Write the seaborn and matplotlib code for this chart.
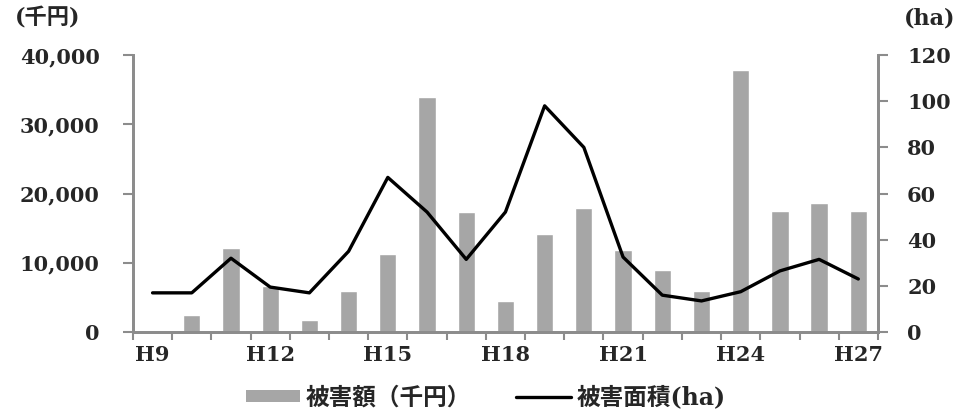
import numpy as np
import pandas as pd
import matplotlib
matplotlib.use('Agg')
import matplotlib.pyplot as plt
import seaborn as sns
from matplotlib.lines import Line2D
from matplotlib.patches import Patch

# 年度（平成）
years = ['H9', 'H10', 'H11', 'H12', 'H13', 'H14', 'H15', 'H16', 'H17', 'H18',
         'H19', 'H20', 'H21', 'H22', 'H23', 'H24', 'H25', 'H26', 'H27']
# 被害額（千円）
damage_amount = [0, 2400, 12100, 6600, 1800, 6000, 11300, 34000, 17300, 4500,
                 14200, 17900, 11800, 9000, 6000, 37900, 17500, 18700, 17500]
# 被害面積（ha）
damage_area = [17, 17, 32, 19.5, 17, 35, 67, 52, 31.5, 52,
               98, 80, 32.5, 16, 13.5, 17.5, 26.5, 31.5, 23]

left_ticks = [0, 10000, 20000, 30000, 40000]
right_ticks = [0, 20, 40, 60, 80, 100, 120]

df = pd.DataFrame({'年度': years, '被害額': damage_amount,
                   '被害面積': damage_area, 'pos': np.arange(len(years))})

sns.set_style('white')
plt.rcParams['font.family'] = ['DejaVu Serif', 'Noto Sans CJK JP']
plt.rcParams['font.weight'] = 'bold'

fig = plt.figure(figsize=(9.6, 4.09), dpi=100)
ax = fig.add_axes([0.1385, 0.188, 0.776, 0.6775])

sns.barplot(data=df, x='年度', y='被害額', color='#a6a6a6', saturation=1,
            width=0.44, ax=ax)

ax2 = ax.twinx()
sns.lineplot(data=df, x='pos', y='被害面積', color='black', linewidth=2.4, ax=ax2)

axis_col = '#8c8c8c'
for a in (ax, ax2):
    a.spines['top'].set_visible(False)
    for s in ('left', 'right', 'bottom'):
        a.spines[s].set_color(axis_col)
        a.spines[s].set_linewidth(2)
    a.set_xlabel('')
    a.set_ylabel('')

ax.set_xlim(-0.5, len(years) - 0.5)
ax.set_ylim(0, 40000)
ax2.set_ylim(0, 120)
ax.set_yticks(left_ticks)
ax.set_yticklabels([f'{v:,}' for v in left_ticks])
ax2.set_yticks(right_ticks)
ax.tick_params(axis='y', direction='out', length=7, width=1.5, color=axis_col,
               labelsize=15, pad=17, left=True)
ax2.tick_params(axis='y', direction='out', length=7, width=1.5, color=axis_col,
                labelsize=15, pad=14, right=True)

# x軸: 3年ごとにラベル、目盛りは各区切り
ax.set_xticks(np.arange(0, len(years), 3))
ax.set_xticklabels(years[::3])
ax.set_xticks(np.arange(-0.5, len(years)), minor=True)
ax.tick_params(axis='x', which='major', length=0, labelsize=15, pad=9)
ax.tick_params(axis='x', which='minor', direction='out', length=6, width=1.5,
               color=axis_col, bottom=True)

fig.text(0.015, 0.955, '(千円)', fontsize=16, ha='left', va='center')
fig.text(0.942, 0.955, '(ha)', fontsize=16, ha='left', va='center')

handles = [Patch(facecolor='#a6a6a6', edgecolor='none'),
           Line2D([], [], color='black', linewidth=2.4)]
fig.legend(handles, ['被害額（千円）', '被害面積(ha)'], loc='center',
           bbox_to_anchor=(0.506, 0.028), ncol=2, frameon=False, fontsize=17,
           handlelength=2.3, handleheight=0.45, handletextpad=0.25,
           columnspacing=1.9, borderpad=0)

fig.savefig('out.png', dpi=100)
